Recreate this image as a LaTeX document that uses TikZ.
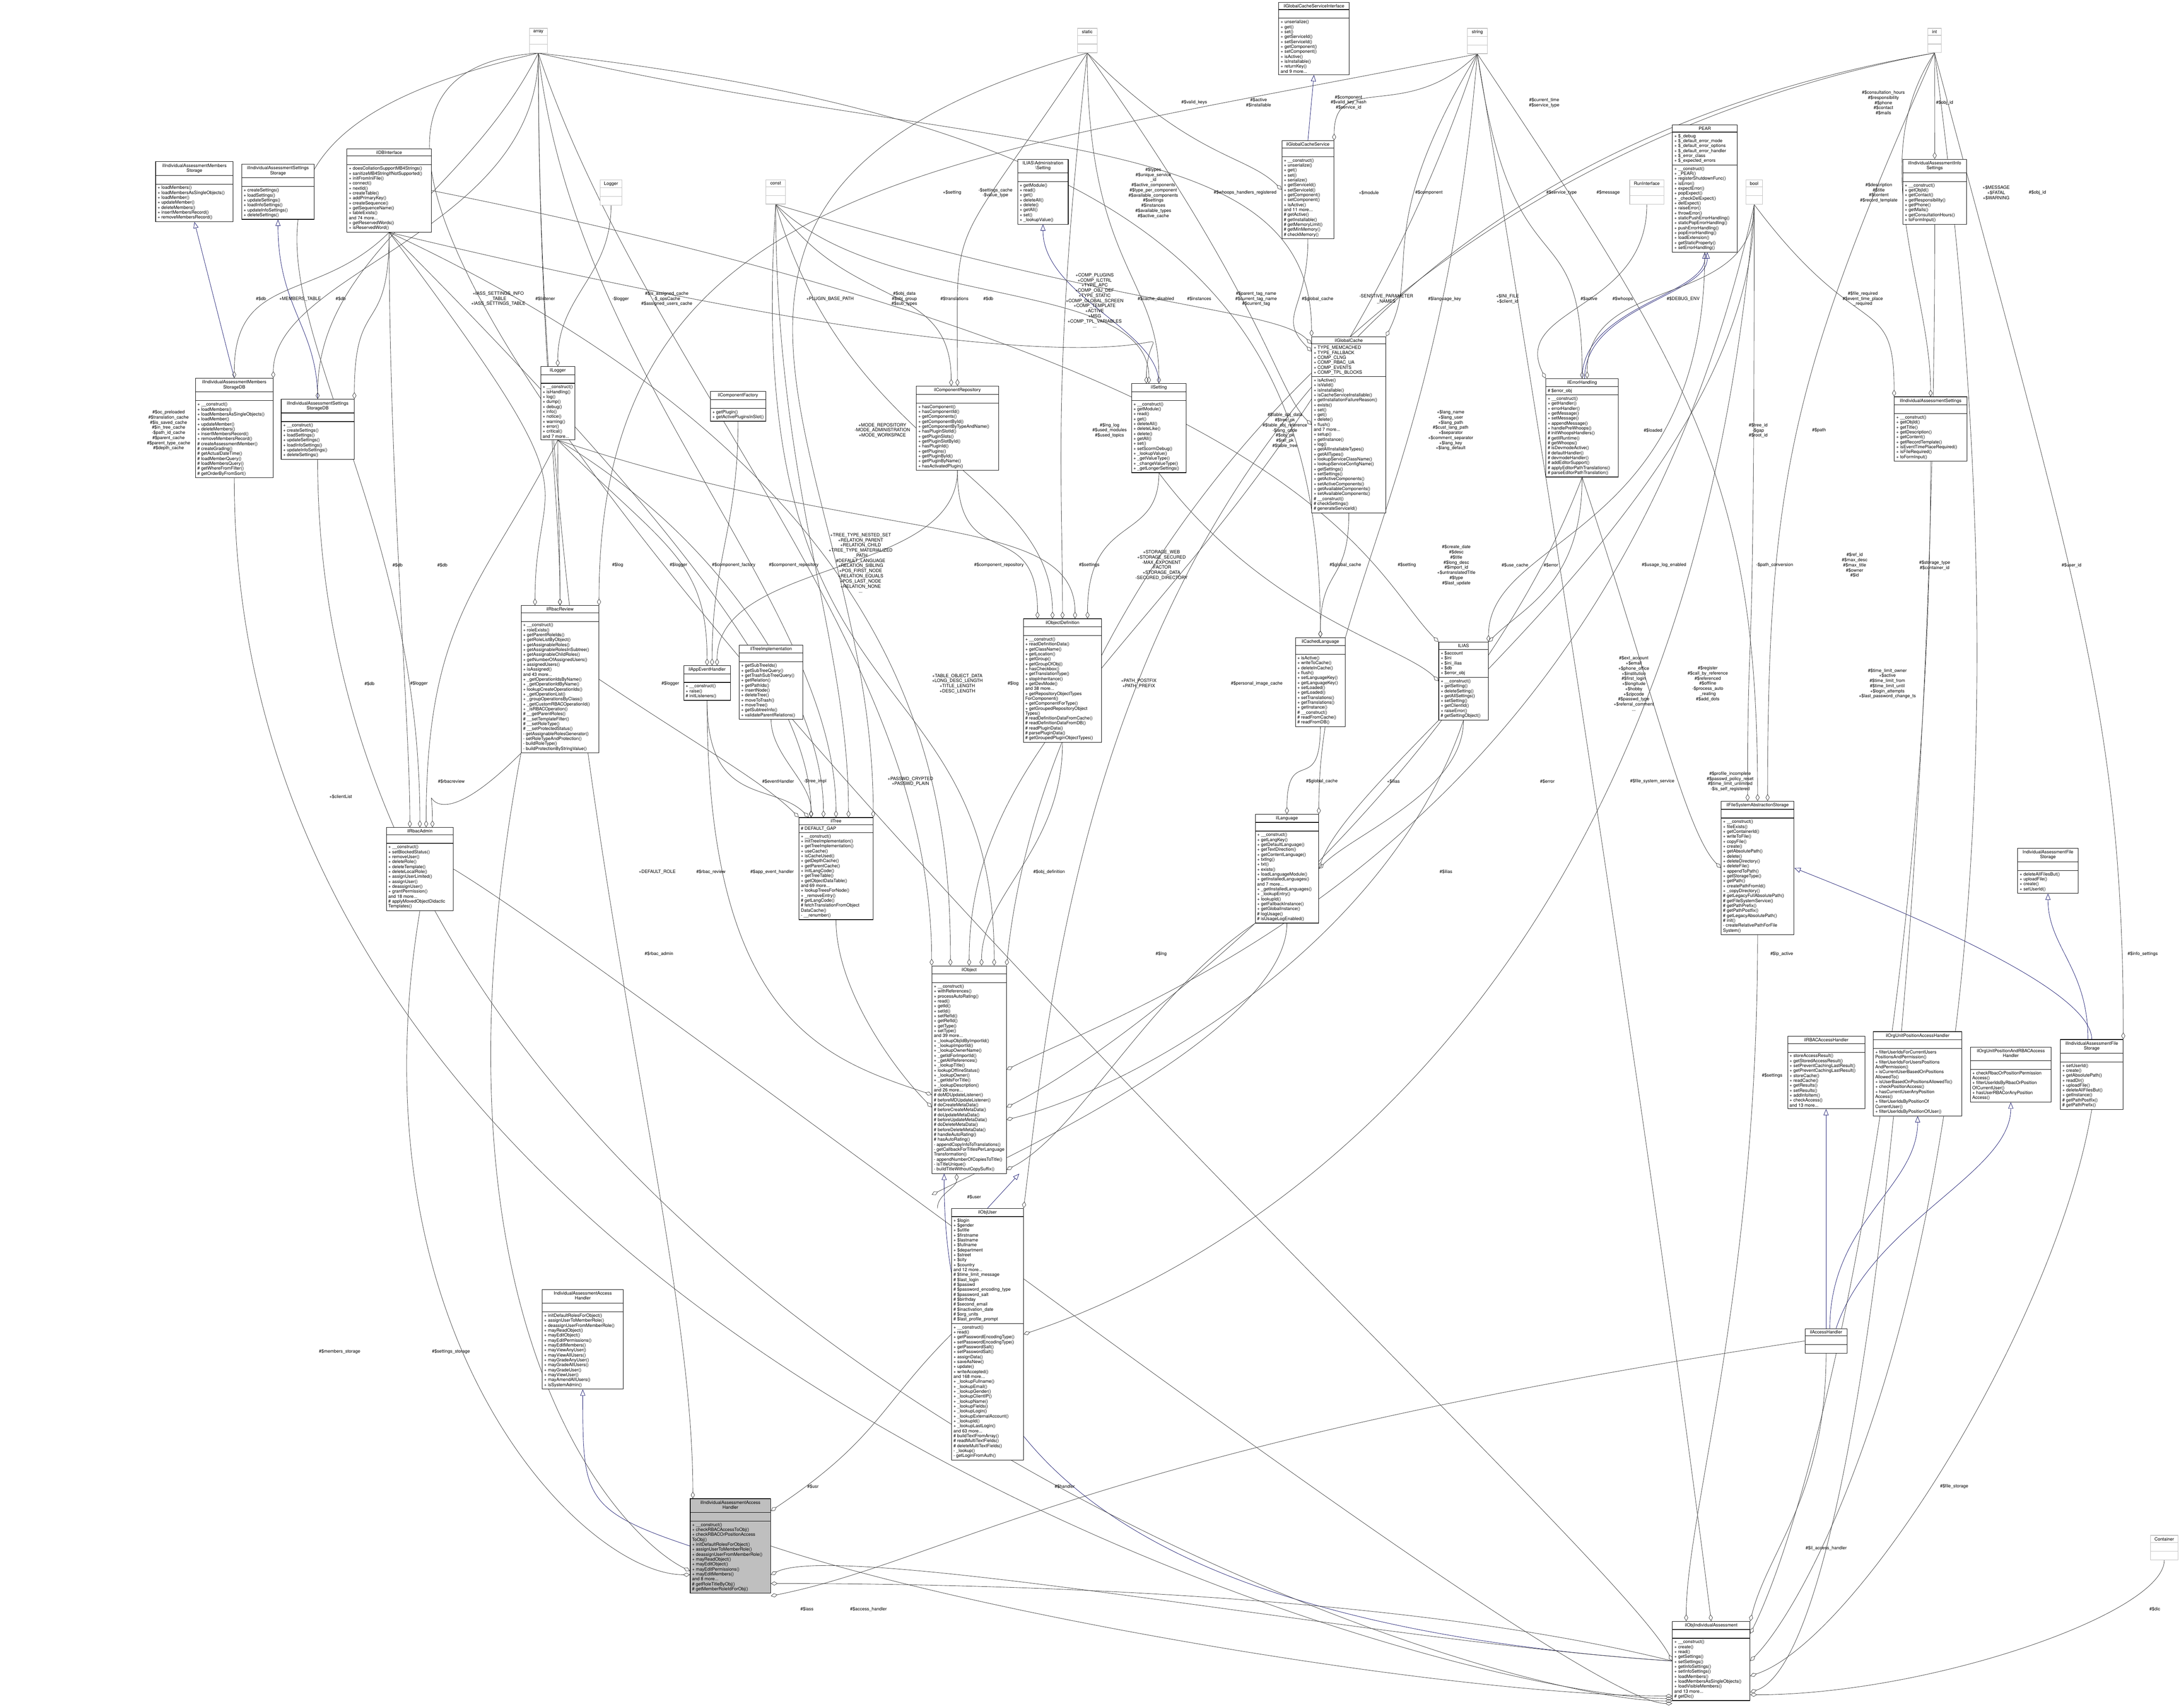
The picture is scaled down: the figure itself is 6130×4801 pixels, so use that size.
\documentclass[tikz,border=0pt]{standalone}
\usepackage{fontspec}
\setmainfont{TeX Gyre Heros}
\usetikzlibrary{shapes.multipart,arrows.meta}
\definecolor{edgec}{RGB}{64,64,64}
\definecolor{inhc}{RGB}{25,25,112}
\pgfdeclarelayer{bg}
\pgfsetlayers{bg,main}
\newcommand\twol[2]{\begin{tabular}{@{}c@{}}#1\\#2\end{tabular}}
\newcommand\cls[8][]{\node[cls,minimum width=#5*0.01cm,anchor=north west,#1] (#2) at (#3,#4) {#6\nodepart{second}#7\nodepart{third}#8};}
\newcommand\ebox[5]{\node[cls,draw=black!25,minimum width=#4*0.01cm,anchor=north west] (#1) at (#2,#3) {#5\nodepart{second}\strut\nodepart{third}\strut};}
\newcommand\lab[3]{\node[lbl] at (#1,#2) {#3};}
\tikzset{
 cls/.style={draw=black,rectangle split,rectangle split parts=3,rectangle split part align={center,left,left},
   align=left,inner xsep=1.5pt,inner ysep=1.3pt,fill=white,line width=0.4pt,
   font=\fontsize{3.6}{3.95}\selectfont},
 lbl/.style={align=center,inner sep=0pt,font=\fontsize{3.6}{4.1}\selectfont},
 agg/.style={draw=edgec,line width=0.3pt,-{Diamond[open,length=5.5pt,width=3.2pt]}},
 inh/.style={draw=inhc,line width=0.3pt,-{Triangle[open,length=5pt,width=4pt]}},
}
\begin{document}
\begin{tikzpicture}[x=0.01cm,y=-0.01cm]
\useasboundingbox (0,0) rectangle (6130,4801);
% empty type boxes
\ebox{array}{1488}{79}{50}{array}
\ebox{static}{3029}{79}{55}{static}
\ebox{string}{4125}{79}{57}{string}
\ebox{int}{5420}{79}{38}{int}
\ebox{Logger}{1687}{505}{61}{Logger}
\ebox{const}{2153}{505}{55}{const}
\ebox{RunI}{4582}{505}{96}{RunInterface}
\ebox{bool}{4909}{505}{46}{bool}
\ebox{Container}{6046}{4316}{78}{Container}
% classes
\cls{DBI}{975}{418}{237}{ilDBInterface}{\strut}{+ doesCollationSupportMB4Strings()\\+ sanitizeMB4StringIfNotSupported()\\+ initFromIniFile()\\+ connect()\\+ nextId()\\+ createTable()\\+ addPrimaryKey()\\+ createSequence()\\+ getSequenceName()\\+ tableExists()\\and 74 more...\\+ getReservedWords()\\+ isReservedWord()}
\cls{MS}{437}{454}{218}{\twol{ilIndividualAssessmentMembers}{Storage}}{\strut}{+ loadMembers()\\+ loadMembersAsSingleObjects()\\+ loadMember()\\+ updateMember()\\+ deleteMembers()\\+ insertMembersRecord()\\+ removeMembersRecord()}
\cls{SS}{679}{461}{204}{\twol{ilIndividualAssessmentSettings}{Storage}}{\strut}{+ createSettings()\\+ loadSettings()\\+ updateSettings()\\+ loadInfoSettings()\\+ updateInfoSettings()\\+ deleteSettings()}
\cls{MSDB}{549}{1063}{218}{\twol{ilIndividualAssessmentMembers}{StorageDB}}{\strut}{+ \_\_construct()\\+ loadMembers()\\+ loadMembersAsSingleObjects()\\+ loadMember()\\+ updateMember()\\+ deleteMembers()\\+ insertMembersRecord()\\+ removeMembersRecord()\\\# createAssessmentMember()\\\# createGrading()\\\# getActualDateTime()\\\# loadMemberQuery()\\\# loadMembersQuery()\\\# getWhereFromFilter()\\\# getOrderByFromSort()}
\cls{SSDB}{790}{1122}{205}{\twol{ilIndividualAssessmentSettings}{StorageDB}}{\strut}{+ \_\_construct()\\+ createSettings()\\+ loadSettings()\\+ updateSettings()\\+ loadInfoSettings()\\+ updateInfoSettings()\\+ deleteSettings()}
\cls{GCSI}{3595}{6}{198}{ilGlobalCacheServiceInterface}{\strut}{+ unserialize()\\+ get()\\+ set()\\+ getServiceId()\\+ setServiceId()\\+ getComponent()\\+ setComponent()\\+ isActive()\\+ isInstallable()\\+ returnKey()\\and 9 more...}
\cls{GCS}{3604}{395}{146}{ilGlobalCacheService}{\strut}{+ \_\_construct()\\+ unserialize()\\+ get()\\+ set()\\+ serialize()\\+ getServiceId()\\+ setServiceId()\\+ getComponent()\\+ setComponent()\\+ isActive()\\and 11 more...\\\# getActive()\\\# getInstallable()\\\# getMemoryLimit()\\\# getMinMemory()\\\# checkMemory()}
\cls{ASet}{2861}{447}{142}{\twol{ILIAS\textbackslash Administration}{\textbackslash Setting}}{\strut}{+ getModule()\\+ read()\\+ get()\\+ deleteAll()\\+ delete()\\+ getAll()\\+ set()\\+ \_lookupValue()}
\cls{PEAR}{4702}{351}{182}{PEAR}{+ \$\_debug\\+ \$\_default\_error\_mode\\+ \$\_default\_error\_options\\+ \$\_default\_error\_handler\\+ \$\_error\_class\\+ \$\_expected\_errors}{+ \_\_construct()\\+ \_PEAR()\\+ registerShutdownFunc()\\+ isError()\\+ expectError()\\+ popExpect()\\+ \_checkDelExpect()\\+ delExpect()\\+ raiseError()\\+ throwError()\\+ staticPushErrorHandling()\\+ staticPopErrorHandling()\\+ pushErrorHandling()\\+ popErrorHandling()\\+ loadExtension()\\+ getStaticProperty()\\+ setErrorHandling()}
\cls{InfoS}{5350}{447}{179}{\twol{ilIndividualAssessmentInfo}{Settings}}{\strut}{+ \_\_construct()\\+ getObjId()\\+ getContact()\\+ getResponsibility()\\+ getPhone()\\+ getMails()\\+ getConsultationHours()\\+ toFormInput()}
\cls{CRepo}{2576}{1085}{231}{ilComponentRepository}{\strut}{+ hasComponent()\\+ hasComponentId()\\+ getComponents()\\+ getComponentById()\\+ getComponentByTypeAndName()\\+ hasPluginSlotId()\\+ getPluginSlots()\\+ getPluginSlotById()\\+ hasPluginId()\\+ getPlugins()\\+ getPluginById()\\+ getPluginByName()\\+ hasActivatedPlugin()}
\cls{CFact}{1997}{1100}{138}{ilComponentFactory}{\strut}{+ getPlugin()\\+ getActivePluginsInSlot()}
\cls{ilLogger}{1520}{1030}{90}{ilLogger}{\strut}{+ \_\_construct()\\+ isHandling()\\+ log()\\+ dump()\\+ debug()\\+ info()\\+ notice()\\+ warning()\\+ error()\\+ critical()\\and 7 more...}
\cls{ilSetting}{3181}{1078}{154}{ilSetting}{\strut}{+ \_\_construct()\\+ getModule()\\+ read()\\+ get()\\+ deleteAll()\\+ deleteLike()\\+ delete()\\+ getAll()\\+ set()\\+ setScormDebug()\\+ \_lookupValue()\\+ \_getValueType()\\+ \_changeValueType()\\+ \_getLongerSettings()}
\cls{GCache}{3688}{946}{208}{ilGlobalCache}{+ TYPE\_MEMCACHED\\+ TYPE\_FALLBACK\\+ COMP\_CLNG\\+ COMP\_RBAC\_UA\\+ COMP\_EVENTS\\+ COMP\_TPL\_BLOCKS}{+ isActive()\\+ isValid()\\+ isInstallable()\\+ isCacheServiceInstallable()\\+ getInstallationFailureReason()\\+ exists()\\+ set()\\+ get()\\+ delete()\\+ flush()\\and 7 more...\\+ setup()\\+ getInstance()\\+ log()\\+ getAllInstallableTypes()\\+ getAllTypes()\\+ lookupServiceClassName()\\+ lookupServiceConfigName()\\+ getSettings()\\+ setSettings()\\+ getActiveComponents()\\+ setActiveComponents()\\+ getAvailableComponents()\\+ setAvailableComponents()\\\# \_\_construct()\\\# checkSettings()\\\# generateServiceId()}
\cls{ObjDef}{2877}{1739}{220}{ilObjectDefinition}{\strut}{+ \_\_construct()\\+ readDefinitionData()\\+ getClassName()\\+ getLocation()\\+ getGroup()\\+ getGroupOfObj()\\+ hasCheckbox()\\+ getTranslationType()\\+ stopInheritance()\\+ getDevMode()\\and 38 more...\\+ getRepositoryObjectTypes\\ForComponent()\\+ getComponentForType()\\+ getGroupedRepositoryObject\\Types()\\\# readDefinitionDataFromCache()\\\# readDefinitionDataFromDB()\\\# readPluginData()\\\# parsePluginData()\\\# getGroupedPluginObjectTypes()}
\cls{CLang}{3642}{1792}{140}{ilCachedLanguage}{\strut}{+ isActive()\\+ writeToCache()\\+ deleteInCache()\\+ flush()\\+ setLanguageKey()\\+ getLanguageKey()\\+ setLoaded()\\+ getLoaded()\\+ setTranslations()\\+ getTranslations()\\+ getInstance()\\\# \_\_construct()\\\# readFromCache()\\\# readFromDB()}
\cls{ErrH}{4346}{1064}{204}{ilErrorHandling}{\# \$error\_obj}{+ \_\_construct()\\+ getHandler()\\+ errorHandler()\\+ getMessage()\\+ setMessage()\\+ appendMessage()\\+ handlePreWhoops()\\\# initWhoopsHandlers()\\\# getIlRuntime()\\\# getWhoops()\\\# isDevmodeActive()\\\# defaultHandler()\\\# devmodeHandler()\\\# addEditorSupport()\\\# applyEditorPathTranslations()\\\# parseEditorPathTranslation()}
\cls{IASet}{5326}{1115}{204}{ilIndividualAssessmentSettings}{\strut}{+ \_\_construct()\\+ getObjId()\\+ getTitle()\\+ getDescription()\\+ getContent()\\+ getRecordTemplate()\\+ isEventTimePlaceRequired()\\+ isFileRequired()\\+ toFormInput()}
\cls{ILIAS}{4045}{1805}{139}{ILIAS}{+ \$account\\+ \$ini\\+ \$ini\_ilias\\+ \$db\\+ \$error\_obj}{+ \_\_construct()\\+ getSetting()\\+ deleteSetting()\\+ getAllSettings()\\+ setSetting()\\+ getClientId()\\+ raiseError()\\\# getSettingObject()}
\cls{RRev}{1465}{1702}{218}{ilRbacReview}{\strut}{+ \_\_construct()\\+ roleExists()\\+ getParentRoleIds()\\+ getRoleListByObject()\\+ getAssignableRoles()\\+ getAssignableRolesInSubtree()\\+ getAssignableChildRoles()\\+ getNumberOfAssignedUsers()\\+ assignedUsers()\\+ isAssigned()\\and 43 more...\\+ \_getOperationIdsByName()\\+ \_getOperationIdByName()\\+ lookupCreateOperationIds()\\+ \_getOperationList()\\+ \_groupOperationsByClass()\\+ \_getCustomRBACOperationId()\\+ \_isRBACOperation()\\\# \_\_getParentRoles()\\\# \_\_setTemplateFilter()\\\# \_\_setRoleType()\\\# \_\_setProtectedStatus()\\- getAssignableRolesGenerator()\\- setRoleTypeAndProtection()\\- buildRoleType()\\- buildProtectionByStringValue()}
\cls{AppEH}{1922}{1871}{131}{ilAppEventHandler}{\strut}{+ \_\_construct()\\+ raise()\\\# initListeners()}
\cls{TImpl}{2078}{1813}{179}{ilTreeImplementation}{\strut}{+ getSubTreeIds()\\+ getSubTreeQuery()\\+ getTrashSubTreeQuery()\\+ getRelation()\\+ getPathIds()\\+ insertNode()\\+ deleteTree()\\+ moveToTrash()\\+ moveTree()\\+ getSubtreeInfo()\\+ validateParentRelations()}
\cls{RAdm}{1086}{2326}{188}{ilRbacAdmin}{\strut}{+ \_\_construct()\\+ setBlockedStatus()\\+ removeUser()\\+ deleteRole()\\+ deleteTemplate()\\+ deleteLocalRole()\\+ assignUserLimited()\\+ assignUser()\\+ deassignUser()\\+ grantPermission()\\and 18 more...\\\# applyMovedObjectDidactic\\Templates()}
\cls{Tree}{2246}{2298}{208}{ilTree}{\# DEFAULT\_GAP}{+ \_\_construct()\\+ initTreeImplementation()\\+ getTreeImplementation()\\+ useCache()\\+ isCacheUsed()\\+ getDepthCache()\\+ getParentCache()\\+ initLangCode()\\+ getTreeTable()\\+ getObjectDataTable()\\and 69 more...\\+ lookupTreesForNode()\\+ \_removeEntry()\\\# getLangCode()\\\# fetchTranslationFromObject\\DataCache()\\- \_\_renumber()}
\cls{Lang}{3529}{2289}{178}{ilLanguage}{\strut}{+ \_\_construct()\\+ getLangKey()\\+ getDefaultLanguage()\\+ getTextDirection()\\+ getContentLanguage()\\+ txtlng()\\+ txt()\\+ exists()\\+ loadLanguageModule()\\+ getInstalledLanguages()\\and 7 more...\\+ \_getInstalledLanguages()\\+ \_lookupEntry()\\+ lookupId()\\+ getFallbackInstance()\\+ getGlobalInstance()\\\# logUsage()\\\# isUsageLogEnabled()}
\cls{Obj}{2620}{2715}{204}{ilObject}{\strut}{+ \_\_construct()\\+ withReferences()\\+ processAutoRating()\\+ read()\\+ getId()\\+ setId()\\+ setRefId()\\+ getRefId()\\+ getType()\\+ setType()\\and 39 more...\\+ \_lookupObjIdByImportId()\\+ \_lookupImportId()\\+ \_lookupOwnerName()\\+ \_getIdForImportId()\\+ \_getAllReferences()\\+ \_lookupTitle()\\+ lookupOfflineStatus()\\+ \_lookupOwner()\\+ \_getIdsForTitle()\\+ \_lookupDescription()\\and 26 more...\\\# doMDUpdateListener()\\\# beforeMDUpdateListener()\\\# doCreateMetaData()\\\# beforeCreateMetaData()\\\# doUpdateMetaData()\\\# beforeUpdateMetaData()\\\# doDeleteMetaData()\\\# beforeDeleteMetaData()\\\# handleAutoRating()\\\# hasAutoRating()\\- appendCopyInfoToTranslations()\\- getCallbackForTitlesPerLanguage\\Transformation()\\- appendNumberOfCopiesToTitle()\\- isTitleUnique()\\- buildTitleWithoutCopySuffix()}
\cls{User}{2675}{3397}{202}{ilObjUser}{+ \$login\\+ \$gender\\+ \$utitle\\+ \$firstname\\+ \$lastname\\+ \$fullname\\+ \$department\\+ \$street\\+ \$city\\+ \$country\\and 12 more...\\\# \$time\_limit\_message\\\# \$last\_login\\\# \$passwd\\\# \$password\_encoding\_type\\\# \$password\_salt\\\# \$birthday\\\# \$second\_email\\\# \$inactivation\_date\\\# \$org\_units\\\# \$last\_profile\_prompt}{+ \_\_construct()\\+ read()\\+ getPasswordEncodingType()\\+ setPasswordEncodingType()\\+ getPasswordSalt()\\+ setPasswordSalt()\\+ assignData()\\+ saveAsNew()\\+ update()\\+ writeAccepted()\\and 168 more...\\+ \_lookupFullname()\\+ \_lookupEmail()\\+ \_lookupGender()\\+ \_lookupClientIP()\\+ \_lookupName()\\+ \_lookupFields()\\+ \_lookupLogin()\\+ \_lookupExternalAccount()\\+ \_lookupId()\\+ \_lookupLastLogin()\\and 63 more...\\\# buildTextFromArray()\\\# readMultiTextFields()\\\# deleteMultiTextFields()\\- \_lookup()\\- getLoginFromAuth()}
\cls{FSAS}{4839}{2252}{205}{ilFileSystemAbstractionStorage}{\strut}{+ \_\_construct()\\+ fileExists()\\+ getContainerId()\\+ writeToFile()\\+ copyFile()\\+ create()\\+ getAbsolutePath()\\+ delete()\\+ deleteDirectory()\\+ deleteFile()\\+ appendToPath()\\+ getStorageType()\\+ getPath()\\+ createPathFromId()\\+ \_copyDirectory()\\\# getLegacyFullAbsolutePath()\\\# getFileSystemService()\\\# getPathPrefix()\\\# getPathPostfix()\\\# getLegacyAbsolutePath()\\\# init()\\- createRelativePathForFile\\System()}
\cls{IAFSI}{5673}{2384}{170}{\twol{IndividualAssessmentFile}{Storage}}{\strut}{+ deleteAllFilesBut()\\+ uploadFile()\\+ create()\\+ setUserId()}
\cls{RBAH}{5026}{2913}{217}{ilRBACAccessHandler}{\strut}{+ storeAccessResult()\\+ getStoredAccessResult()\\+ setPreventCachingLastResult()\\+ getPreventCachingLastResult()\\+ storeCache()\\+ readCache()\\+ getResults()\\+ setResults()\\+ addInfoItem()\\+ checkAccess()\\and 13 more...}
\cls{OUPAH}{5267}{2900}{249}{ilOrgUnitPositionAccessHandler}{\strut}{+ filterUserIdsForCurrentUsers\\PositionsAndPermission()\\+ filterUserIdsForUsersPositions\\AndPermission()\\+ isCurrentUserBasedOnPositions\\AllowedTo()\\+ isUserBasedOnPositionsAllowedTo()\\+ checkPositionAccess()\\+ hasCurrentUserAnyPosition\\Access()\\+ filterUserIdsByPositionOf\\CurrentUser()\\+ filterUserIdsByPositionOfUser()}
\cls{OUPRAH}{5540}{2943}{227}{\twol{ilOrgUnitPositionAndRBACAccess}{Handler}}{\strut}{+ checkRbacOrPositionPermission\\Access()\\+ filterUserIdsByRbacOrPosition\\OfCurrentUser()\\+ hasUserRBACorAnyPosition\\Access()}
\cls{IAFS}{5793}{2922}{176}{\twol{ilIndividualAssessmentFile}{Storage}}{\strut}{+ setUserId()\\+ create()\\+ getAbsolutePath()\\+ readDir()\\+ uploadFile()\\+ deleteAllFilesBut()\\+ getInstance()\\\# getPathPostfix()\\\# getPathPrefix()}
\cls{IAAHI}{1524}{3625}{228}{\twol{IndividualAssessmentAccess}{Handler}}{\strut}{+ initDefaultRolesForObject()\\+ assignUserToMemberRole()\\+ deassignUserFromMemberRole()\\+ mayReadObject()\\+ mayEditObject()\\+ mayEditPermissions()\\+ mayEditMembers()\\+ mayViewAnyUser()\\+ mayViewAllUsers()\\+ mayGradeAnyUser()\\+ mayGradeAllUsers()\\+ mayGradeUser()\\+ mayViewUser()\\+ mayAmendAllUsers()\\+ isSystemAdmin()}
\cls[fill=black!25]{IAAH}{1940}{4213}{226}{\twol{ilIndividualAssessmentAccess}{Handler}}{\strut}{+ \_\_construct()\\+ checkRBACAccessToObj()\\+ checkRBACOrPositionAccess\\ToObj()\\+ initDefaultRolesForObject()\\+ assignUserToMemberRole()\\+ deassignUserFromMemberRole()\\+ mayReadObject()\\+ mayEditObject()\\+ mayEditPermissions()\\+ mayEditMembers()\\and 8 more...\\\# getRoleTitleByObj()\\\# getMemberRoleIdForObj()}
\cls{AccH}{5075}{3735}{118}{ilAccessHandler}{\strut}{\strut}
\cls{ObjIA}{4702}{4558}{218}{ilObjIndividualAssessment}{\strut}{+ \_\_construct()\\+ create()\\+ read()\\+ getSettings()\\+ setSettings()\\+ getInfoSettings()\\+ setInfoSettings()\\+ loadMembers()\\+ loadMembersAsSingleObjects()\\+ loadVisibleMembers()\\and 13 more...\\\# getDic()}
% ---------- edges ----------
\begin{pgfonlayer}{bg}
\draw[inh] (MSDB.north) -- (MS.south);
\draw[inh] (SSDB.north) .. controls +(0,-200) and +(0,250) .. (SS.south);
\draw[inh] (GCS.north) -- (GCSI.south);
\draw[inh] (ilSetting.north) .. controls +(0,-150) and +(0,200) .. (ASet.south);
\draw[inh] (ErrH.north) .. controls +(0,-200) and +(0,120) .. (PEAR.south);
\draw[inh] ([xshift=2pt]ErrH.north) .. controls +(0,-200) and +(0,120) .. ([xshift=2pt]PEAR.south);
\draw[inh] (User.north) -- ([xshift=40pt]Obj.south);
\draw[inh] (IAFS.north) .. controls +(0,-150) and +(250,100) .. (FSAS.east);
\draw[inh] ([xshift=-3pt]IAFS.north) .. controls +(0,-200) and +(0,150) .. (IAFSI.south);
\draw[inh] (AccH.north) -- (AccH.north |- RBAH.south);
\draw[inh] ([xshift=3pt]AccH.north) .. controls +(0,-300) and +(0,200) .. (OUPAH.south);
\draw[inh] ([xshift=8pt]AccH.north) .. controls +(100,-300) and +(0,200) .. (OUPRAH.south);
\draw[inh] (IAAH.west) .. controls +(-300,-100) and +(0,300) .. (IAAHI.south);
\draw[inh] (ObjIA.west) .. controls +(-1800,-120) and +(0,600) .. ([xshift=-20pt]Obj.south);
\draw[agg] (array.south) .. controls +(0,500) and +(0,-300) .. (MSDB.north east);
\draw[agg] (array.south) .. controls +(-200,400) and +(0,-400) .. (SSDB.north);
\draw[agg] (array.south) .. controls +(0,800) and +(0,-300) .. (RRev.north);
\draw[agg] (array.south) .. controls +(100,900) and +(0,-600) .. (Tree.north);
\draw[agg] (array.south) .. controls +(300,900) and +(0,-900) .. ([xshift=-30pt]Obj.north);
\draw[agg] (array.south) .. controls +(0,2000) and +(0,-800) .. ([xshift=-30pt]IAAH.north);
\draw[agg] (array.south) .. controls +(1300,300) and +(0,-600) .. (GCache.north west);
\draw[agg] (array.south) .. controls +(1800,200) and +(0,-900) .. (CLang.north);
\draw[agg] (array.south) .. controls +(-1300,300) and +(0,-1300) .. (RAdm.north);
\draw[agg] (array.south) .. controls +(-1500,100) and +(-200,-400) .. (ObjIA.west);
\draw[agg] (static.south) .. controls +(0,600) and +(0,-300) .. (ilSetting.north);
\draw[agg] (static.south) .. controls +(300,300) and +(-100,-100) .. (GCS.west);
\draw[agg] (static.south) .. controls +(-100,900) and +(0,-400) .. (ObjDef.north);
\draw[agg] (static.south) .. controls +(-400,600) and +(0,-500) .. (CRepo.north);
\draw[agg] (static.south) .. controls +(500,700) and +(-100,-100) .. (GCache.west);
\draw[agg] (static.south) .. controls +(-1400,400) and +(0,-1000) .. (Tree.north east);
\draw[agg] (string.south) .. controls +(-200,200) and +(0,-200) .. (GCS.north east);
\draw[agg] (string.south) .. controls +(-300,500) and +(100,-200) .. (GCache.north east);
\draw[agg] (string.south) .. controls +(100,700) and +(0,-500) .. (ErrH.north);
\draw[agg] (string.south) .. controls +(-100,1200) and +(0,-600) .. (Lang.north east);
\draw[agg] (string.south) .. controls +(-500,1500) and +(0,-800) .. (Obj.north);
\draw[agg] (string.south) .. controls +(600,900) and +(0,-900) .. (FSAS.north);
\draw[agg] (string.south) .. controls +(300,1800) and +(-100,-800) .. (ObjIA.north);
\draw[agg] (string.south) .. controls +(-1500,300) and +(0,-1200) .. (RRev.north east);
\draw[agg] (int.south) -- (InfoS.north);
\draw[agg] (int.south) .. controls +(-200,300) and +(0,-300) .. (IASet.north);
\draw[agg] (int.south) .. controls +(-400,900) and +(0,-900) .. ([xshift=8pt]FSAS.north);
\draw[agg] (int.south) .. controls +(400,1500) and +(0,-900) .. (IAFS.north east);
\draw[agg] (int.south) .. controls +(-1600,300) and +(100,-1000) .. (Obj.north east);
\draw[agg] (int.south) .. controls +(400,3000) and +(200,-200) .. (ObjIA.east);
\draw[agg] (int.south) .. controls +(-2300,400) and +(100,-800) .. (User.north east);
\draw[agg] (bool.south) .. controls +(0,300) and +(0,-300) .. ([xshift=4pt]ErrH.north);
\draw[agg] (bool.south) .. controls +(0,800) and +(100,-300) .. (Lang.east);
\draw[agg] (bool.south) .. controls +(300,400) and +(0,-300) .. (IASet.north west);
\draw[agg] (bool.south) .. controls +(0,1500) and +(0,-600) .. ([xshift=-8pt]FSAS.north);
\draw[agg] (bool.south) .. controls +(-200,2500) and +(300,-100) .. (User.east);
\draw[agg] (bool.south) .. controls +(-400,1800) and +(400,-200) .. (Obj.east);
\draw[agg] (DBI.south) .. controls +(-200,200) and +(0,-300) .. (MSDB.north);
\draw[agg] (DBI.south) .. controls +(0,300) and +(0,-300) .. (SSDB.north east);
\draw[agg] (DBI.south) .. controls +(0,700) and +(0,-300) .. ([xshift=-8pt]RAdm.north);
\draw[agg] (DBI.south) .. controls +(600,800) and +(0,-400) .. ([xshift=-20pt]RRev.north);
\draw[agg] (DBI.south) .. controls +(900,900) and +(0,-300) .. ([xshift=-20pt]Tree.north);
\draw[agg] (DBI.south) .. controls +(1500,700) and +(0,-500) .. ([xshift=-15pt]Obj.north);
\draw[agg] (DBI.south) .. controls +(2500,600) and +(0,-300) .. ([xshift=-10pt]ilSetting.north);
\draw[agg] (DBI.east) .. controls +(2500,500) and +(-200,-200) .. (ILIAS.north west);
\draw[agg] (Logger.south) .. controls +(0,200) and +(0,-200) .. (ilLogger.north);
\draw[agg] (const.south) .. controls +(300,300) and +(0,-300) .. ([xshift=-8pt]ilSetting.north);
\draw[agg] (const.south) .. controls +(0,800) and +(0,-500) .. ([xshift=10pt]Tree.north);
\draw[agg] (const.south) .. controls +(200,700) and +(0,-400) .. ([xshift=-8pt]ObjDef.north);
\draw[agg] (const.south) .. controls +(1000,300) and +(-100,-100) .. ([yshift=-6pt]GCache.north west);
\draw[agg] (const.south) .. controls +(200,300) and +(0,-300) .. ([xshift=-5pt]CRepo.north);
\draw[agg] (const.south) .. controls +(-100,1500) and +(0,-900) .. ([xshift=20pt]Obj.north);
\draw[agg] (ilLogger.south) .. controls +(0,200) and +(0,-200) .. (RRev.north);
\draw[agg] (ilLogger.south) .. controls +(-200,400) and +(0,-600) .. ([xshift=5pt]RAdm.north);
\draw[agg] (ilLogger.south) .. controls +(300,300) and +(0,-300) .. (AppEH.north);
\draw[agg] (ilLogger.south) .. controls +(500,300) and +(0,-300) .. ([xshift=-10pt]Tree.north);
\draw[agg] (ilLogger.south) .. controls +(900,300) and +(0,-300) .. ([xshift=10pt]ObjDef.north);
\draw[agg] (CFact.south) .. controls +(0,300) and +(0,-300) .. ([xshift=4pt]AppEH.north);
\draw[agg] (CRepo.south) .. controls +(0,300) and +(0,-300) .. ([xshift=8pt]AppEH.north);
\draw[agg] (CRepo.south) .. controls +(0,300) and +(0,-300) .. ([xshift=-20pt]ObjDef.north);
\draw[agg] (ilSetting.south) .. controls +(0,200) and +(0,-300) .. ([xshift=20pt]ObjDef.north);
\draw[agg] (ilSetting.south) .. controls +(300,400) and +(-100,-100) .. (ILIAS.west);
\draw[agg] (GCS.south) .. controls +(0,200) and +(-100,-100) .. ([yshift=-12pt]GCache.north west);
\draw[agg] (GCache.south) .. controls +(0,200) and +(0,-200) .. (CLang.north);
\draw[agg] (CLang.south) .. controls +(0,200) and +(0,-200) .. (Lang.north);
\draw[agg] (PEAR.south) .. controls +(0,800) and +(0,-300) .. (ILIAS.north east);
\draw[agg] (RunI.south) .. controls +(0,300) and +(-100,-200) .. (ErrH.north west);
\draw[agg] (ErrH.south) .. controls +(0,300) and +(100,-100) .. (ILIAS.north east);
\draw[agg] (ErrH.south) .. controls +(200,600) and +(-100,-100) .. (FSAS.west);
\draw[agg] (ErrH.south) .. controls +(-300,800) and +(400,-200) .. ([yshift=-30pt]Obj.east);
\draw[agg] (ILIAS.south) .. controls +(0,200) and +(100,-100) .. (Lang.east);
\draw[agg] (ILIAS.south) .. controls +(-200,600) and +(400,-100) .. ([yshift=-40pt]Obj.east);
\draw[agg] (IASet.south) .. controls +(0,1500) and +(200,-400) .. ([yshift=-10pt]ObjIA.north east);
\draw[agg] (InfoS.south) .. controls +(0,2000) and +(300,-100) .. ([yshift=-25pt]ObjIA.east);
\draw[agg] (MSDB.south) .. controls +(0,2500) and +(-600,0) .. ([yshift=-30pt]ObjIA.west);
\draw[agg] (SSDB.south) .. controls +(0,2400) and +(-600,0) .. ([yshift=-32pt]ObjIA.west);
\draw[agg] (RRev.south west) .. controls +(-300,300) and +(0,-200) .. ([xshift=10pt]RAdm.north);
\draw[agg] (RRev.east) .. controls +(300,200) and +(-100,-100) .. (Tree.north west);
\draw[agg] (RRev.south west) .. controls +(-300,1600) and +(-200,-100) .. ([yshift=-20pt]IAAH.west);
\draw[agg] (RAdm.east) .. controls +(500,300) and +(-300,0) .. ([yshift=-34pt]ObjIA.west);
\draw[agg] (RAdm.south) .. controls +(-200,1200) and +(-300,0) .. ([yshift=-23pt]IAAH.west);
\draw[agg] (AppEH.south) .. controls +(0,300) and +(-100,-100) .. ([xshift=8pt]Tree.north west);
\draw[agg] (AppEH.south) .. controls +(0,900) and +(-300,-100) .. ([yshift=-20pt]Obj.west);
\draw[agg] (TImpl.south) .. controls +(0,100) and +(0,-100) .. ([xshift=10pt]Tree.north west);
\draw[agg] (Tree.south) .. controls +(0,200) and +(-100,-100) .. ([yshift=-30pt]Obj.west);
\draw[agg] (ObjDef.south) .. controls +(0,300) and +(0,-200) .. ([xshift=-20pt]Obj.north east);
\draw[agg] (Lang.south west) .. controls +(-300,200) and +(200,-100) .. ([yshift=-80pt]Obj.east);
\draw[agg] (Lang.south) .. controls +(0,300) and +(200,-100) .. ([yshift=-100pt]Obj.west);
\draw[agg] (User.west) .. controls +(-200,200) and +(300,-200) .. ([yshift=-10pt]IAAH.north east);
\draw[agg] ([xshift=-40pt]User.north) .. controls +(0,-40) and +(0,40) .. ([xshift=-10pt]Obj.south);
\draw[agg] (ObjIA.west) .. controls +(-800,-200) and +(500,0) .. ([yshift=-30pt]IAAH.east);
\draw[agg] (ObjIA.west) .. controls +(-800,-50) and +(200,-100) .. ([yshift=15pt]IAAH.south east);
\draw[agg] (IAAH.east) .. controls +(600,200) and +(-600,0) .. ([yshift=-28pt]ObjIA.west);
\draw[agg] (AccH.west) .. controls +(-2000,300) and +(500,-100) .. ([yshift=-40pt]IAAH.east);
\draw[agg] (AccH.south) .. controls +(0,400) and +(50,-200) .. (ObjIA.north east);
\draw[agg] (IAFS.south) .. controls +(-100,600) and +(300,-100) .. ([yshift=-12pt]ObjIA.east);
\draw[agg] (Container.south) .. controls +(0,150) and +(500,0) .. ([yshift=-27pt]ObjIA.east);
\draw[agg] (FSAS.south) .. controls +(0,1000) and +(0,-300) .. ([xshift=-20pt]ObjIA.north);
\end{pgfonlayer}
% ---------- labels ----------
\lab{1401}{840}{+IASS\_SETTINGS\_INFO\\\_TABLE\\+IASS\_SETTINGS\_TABLE}
\lab{1533}{840}{\#\$listener}
\lab{1745}{840}{-\$logger}
\lab{1875}{840}{\#\$is\_assigned\_cache\\-\$\_opsCache\\\#\$assigned\_users\_cache}
\lab{2334}{840}{+PLUGIN\_BASE\_PATH}
\lab{2543}{840}{\#\$obj\_data\\\#\$obj\_group\\\#\$sub\_types}
\lab{2684}{840}{\#\$translations}
\lab{2779}{840}{\#\$db}
\lab{3078}{845}{+COMP\_PLUGINS\\+COMP\_ILCTRL\\+TYPE\_APC\\+COMP\_OBJ\_DEF\\+TYPE\_STATIC\\+COMP\_GLOBAL\_SCREEN\\+COMP\_TEMPLATE\\+ACTIVE\\+MSG\\+COMP\_TPL\_VARIABLES\\...}
\lab{3250}{840}{\#\$cache\_disabled}
\lab{3372}{840}{\#\$instances}
\lab{3532}{840}{\#\$parent\_tag\_name\\\#\$current\_tag\_name\\\#\$current\_tag}
\lab{3705}{840}{\#\$global\_cache}
\lab{3898}{840}{-SENSTIVE\_PARAMETER\\\_NAMES}
\lab{4062}{840}{\#\$language\_key}
\lab{4239}{840}{+\$INI\_FILE\\+\$client\_id}
\lab{4468}{840}{\#\$active}
\lab{4563}{840}{\#\$whoops}
\lab{4733}{840}{\#\$DEBUG\_ENV}
\lab{5238}{840}{\#\$file\_required\\\#\$event\_time\_place\\\_required}
\lab{2677}{542}{+\$setting}
\lab{2799}{542}{-\$settings\_cache\\-\$value\_type}
\lab{3358}{288}{\#\$valid\_keys}
\lab{3539}{288}{\#\$active\\\#\$installable}
\lab{3792}{288}{\#\$component\\\#\$valid\_key\_hash\\\#\$service\_id}
\lab{3243}{542}{\#\$types\\\#\$unique\_service\\\_id\\\#\$active\_components\\\#\$type\_per\_component\\\#\$available\_components\\\#\$settings\\\#\$instances\\\#\$available\_types\\\#\$active\_cache}
\lab{3501}{542}{\#\$whoops\_handlers\_registered}
\lab{3849}{542}{+\$module}
\lab{4018}{542}{\#\$component}
\lab{4342}{289}{\#\$current\_time\\\#\$service\_type}
\lab{5296}{289}{\#\$consultation\_hours\\\#\$responsibility\\\#\$phone\\\#\$contact\\\#\$mails}
\lab{5468}{289}{\#\$obj\_id}
\lab{4391}{542}{\#\$service\_type}
\lab{4522}{542}{\#\$message}
\lab{5283}{542}{\#\$description\\\#\$title\\\#\$content\\\#\$record\_template}
\lab{5613}{542}{+\$MESSAGE\\+\$FATAL\\+\$WARNING}
\lab{5729}{542}{\#\$obj\_id}
\lab{474}{1210}{\#\$oc\_preloaded\\\#\$translation\_cache\\\#\$is\_saved\_cache\\\#\$in\_tree\_cache\\-\$path\_id\_cache\\\#\$parent\_cache\\\#\$parent\_type\_cache\\\#\$depth\_cache}
\lab{734}{840}{\#\$db}
\lab{844}{840}{+MEMBERS\_TABLE}
\lab{958}{840}{\#\$db}
\lab{2481}{1210}{+MODE\_REPOSITORY\\-MODE\_ADMINISTRATION\\+MODE\_WORKSPACE}
\lab{3120}{1210}{\#\$lng\_log\\\#\$used\_modules\\\#\$used\_topics}
\lab{3613}{1210}{\#\$table\_obj\_data\\\#\$tree\_pk\\\#\$table\_obj\_reference\\-\$lang\_code\\\#\$obj\_pk\\\#\$ref\_pk\\\#\$table\_tree}
\lab{4079}{1210}{+\$lang\_name\\+\$lang\_user\\+\$lang\_path\\\#\$cust\_lang\_path\\+\$separator\\+\$comment\_separator\\+\$lang\_key\\+\$lang\_default}
\lab{4648}{1210}{\#\$loaded}
\lab{4944}{1210}{\#\$tree\_id\\-\$gap\\\#\$root\_id}
\lab{5115}{1210}{\#\$path}
\lab{2420}{1583}{+TREE\_TYPE\_NESTED\_SET\\+RELATION\_PARENT\\+RELATION\_CHILD\\+TREE\_TYPE\_MATERIALIZED\\\_PATH\\\#DEFAULT\_LANGUAGE\\+RELATION\_SIBLING\\+POS\_FIRST\_NODE\\+RELATION\_EQUALS\\+POS\_LAST\_NODE\\+RELATION\_NONE\\...}
\lab{2809}{1589}{\#\$component\_repository}
\lab{3063}{1589}{\#\$settings}
\lab{3266}{1589}{+STORAGE\_WEB\\+STORAGE\_SECURED\\-MAX\_EXPONENT\\-FACTOR\\+STORAGE\_DATA\\-SECURED\_DIRECTORY}
\lab{3783}{1589}{\#\$global\_cache}
\lab{3956}{1589}{\#\$setting}
\lab{4095}{1589}{\#\$create\_date\\\#\$desc\\\#\$title\\\#\$long\_desc\\\#\$import\_id\\+\$untranslatedTitle\\\#\$type\\\#\$last\_update}
\lab{4260}{1589}{\#\$use\_cache}
\lab{4361}{1589}{\#\$error}
\lab{4679}{1589}{\#\$usage\_log\_enabled}
\lab{4990}{1589}{-\$path\_conversion}
\lab{5215}{1589}{\#\$ref\_id\\\#\$max\_desc\\\#\$max\_title\\\#\$owner\\\#\$id}
\lab{5440}{1589}{\#\$storage\_type\\\#\$container\_id}
\lab{5825}{1589}{\#\$user\_id}
\lab{1118}{1589}{\#\$db}
\lab{1244}{1589}{\#\$db}
\lab{1737}{1589}{\#\$log}
\lab{1908}{1589}{\#\$logger}
\lab{2063}{1589}{\#\$component\_factory}
\lab{2232}{1589}{\#\$component\_repository}
\lab{2692}{1922}{+TABLE\_OBJECT\_DATA\\+LONG\_DESC\_LENGTH\\+TITLE\_LENGTH\\+DESC\_LENGTH}
\lab{2849}{1922}{\#\$log}
\lab{3202}{1922}{+PATH\_POSTFIX\\+PATH\_PREFIX}
\lab{3534}{1922}{\#\$personal\_image\_cache}
\lab{4594}{1922}{\#\$ext\_account\\+\$email\\+\$phone\_office\\+\$institution\\\#\$first\_login\\+\$longitude\\+\$hobby\\+\$zipcode\\\#\$passwd\_type\\+\$referral\_comment\\...}
\lab{4802}{1922}{\#\$register\\\#\$call\_by\_reference\\\#\$referenced\\\#\$offline\\-\$process\_auto\\\_reating\\\#\$add\_dots}
\lab{5307}{1922}{\#\$time\_limit\_owner\\+\$active\\\#\$time\_limit\_from\\\#\$time\_limit\_until\\+\$login\_attempts\\+\$last\_password\_change\_ts}
\lab{1039}{1922}{\#\$db}
\lab{1178}{1922}{\#\$logger}
\lab{1885}{1922}{\#\$logger}
\lab{1269}{2197}{\#\$rbacreview}
\lab{2188}{2197}{\#\$eventHandler}
\lab{2292}{2197}{-\$tree\_impl}
\lab{2560}{2197}{+PASSWD\_CRYPTED\\+PASSWD\_PLAIN}
\lab{3717}{2197}{\#\$global\_cache}
\lab{3918}{2197}{+\$ilias}
\lab{4351}{2197}{\#\$error}
\lab{4646}{2197}{\#\$file\_system\_service}
\lab{4865}{2197}{\#\$profile\_incomplete\\\#\$passwd\_policy\_reset\\\#\$time\_limit\_unlimited\\-\$is\_self\_registered}
\lab{958}{2240}{+\$clientList}
\lab{1848}{2451}{+DEFAULT\_ROLE}
\lab{1999}{2451}{\#\$rbac\_review}
\lab{2171}{2451}{\#\$app\_event\_handler}
\lab{2950}{2451}{\#\$obj\_definition}
\lab{4066}{2451}{\#\$ilias}
\lab{1853}{2682}{\#\$rbac\_admin}
\lab{3265}{2682}{\#\$lng}
\lab{5010}{2682}{\#\$lp\_active}
\lab{6025}{2682}{\#\$info\_settings}
\lab{4983}{3024}{\#\$settings}
\lab{2739}{3365}{\#\$user}
\lab{2286}{4179}{\#\$usr}
\lab{2994}{4179}{\#\$handler}
\lab{5495}{4179}{\#\$file\_storage}
\lab{5135}{4353}{\#\$il\_access\_handler}
\lab{2269}{4524}{\#\$iass}
\lab{2442}{4524}{\#\$access\_handler}
\lab{6059}{4524}{\#\$dic}
\lab{955}{3800}{\#\$members\_storage}
\lab{1268}{3800}{\#\$settings\_storage}
\end{tikzpicture}
\end{document}
